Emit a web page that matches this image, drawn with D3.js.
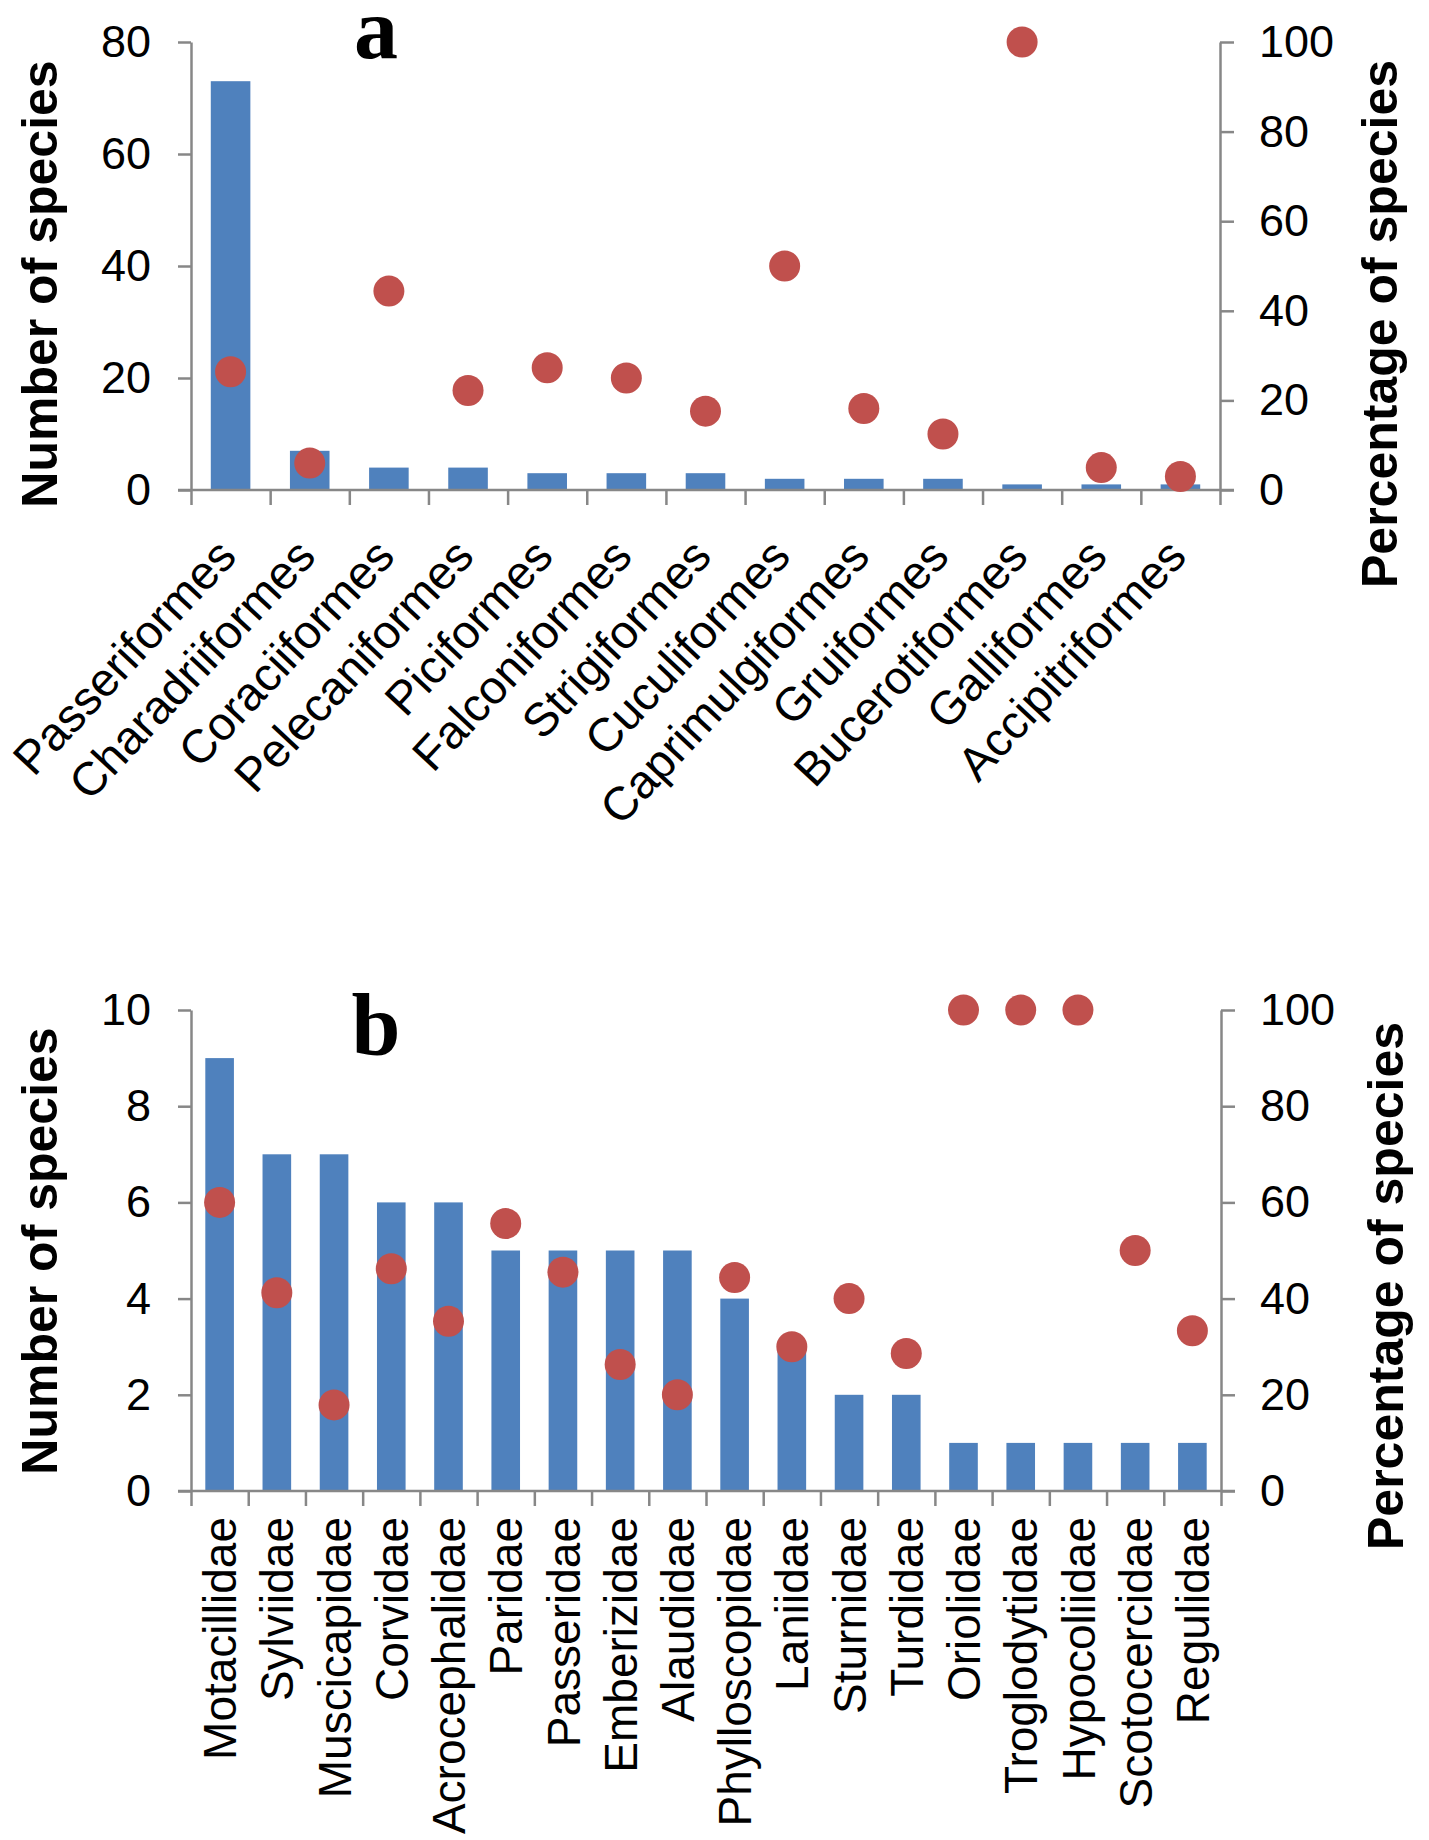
<!DOCTYPE html>
<html>
<head>
<meta charset="utf-8">
<script src="https://cdn.jsdelivr.net/npm/d3@7"></script>
<style>
  body { margin: 0; background: #fff; }
  text { font-family: "Liberation Sans", Arial, sans-serif; }
  .axis path, .axis line { stroke: #878787; stroke-width: 2.5; }
  .axis text { fill: #000; }
</style>
</head>
<body>
<svg id="chart" width="1429" height="1840"></svg>
<script>
// panel a: orders
var orders = ["Passeriformes", "Charadriiformes", "Coraciiformes", "Pelecaniformes", "Piciformes",
    "Falconiformes", "Strigiformes", "Cuculiformes", "Caprimulgiformes", "Gruiformes",
    "Bucerotiformes", "Galliformes", "Accipitriformes"];
var orderCounts = [73, 7, 4, 4, 3, 3, 3, 2, 2, 2, 1, 1, 1];
var orderPercents = [26.4, 6.0, 44.4, 22.2, 27.3, 25.0, 17.6, 50.0, 18.2, 12.5, 100, 5.0, 3.0];

// panel b: families
var families = ["Motacillidae", "Sylviidae", "Muscicapidae", "Corvidae", "Acrocephalidae", "Paridae",
    "Passeridae", "Emberizidae", "Alaudidae", "Phylloscopidae", "Laniidae", "Sturnidae", "Turdidae",
    "Oriolidae", "Troglodytidae", "Hypocoliidae", "Scotocercidae", "Regulidae"];
var familyCounts = [9, 7, 7, 6, 6, 5, 5, 5, 5, 4, 3, 2, 2, 1, 1, 1, 1, 1];
var familyPercents = [60.0, 41.2, 17.9, 46.2, 35.3, 55.6, 45.5, 26.3, 20.0, 44.4, 30.0, 40.0, 28.6,
    100, 100, 100, 50.0, 33.3];

var countTicksA = [0, 20, 40, 60, 80];
var countTicksB = [0, 2, 4, 6, 8, 10];
var percentTicks = [0, 20, 40, 60, 80, 100];

var svg = d3.select("#chart");
svg.append("rect").attr("width", 1429).attr("height", 1840).attr("fill", "#fff");

function drawPanel(p) {
    var n = p.cats.length,
        g = svg.append("g");

    var x = d3.scaleBand().domain(p.cats).range([p.left, p.right]).paddingInner(0.5).paddingOuter(0.25),
        edge = d3.scaleLinear().domain([0, n]).range([p.left, p.right]),
        yL = d3.scaleLinear().domain([0, d3.max(p.countTicks)]).range([p.bottom, p.top]),
        yR = d3.scaleLinear().domain([0, 100]).range([p.bottom, p.top]);

    g.selectAll(".bar")
        .data(p.cats)
        .enter().append("rect")
        .attr("class", "bar")
        .attr("x", function (d) { return x(d); })
        .attr("width", x.bandwidth())
        .attr("y", function (d, i) { return yL(p.counts[i]); })
        .attr("height", function (d, i) { return yL(0) - yL(p.counts[i]); })
        .attr("fill", "#4F81BD");

    // category axis, ticks on the band edges
    var xAxis = g.append("g")
        .attr("class", "axis")
        .attr("transform", "translate(0," + p.bottom + ")")
        .call(d3.axisBottom(edge).tickValues(d3.range(n + 1)).tickSize(15).tickFormat(""));
    xAxis.select(".domain").remove();
    xAxis.append("line")
        .attr("x1", p.left - 13).attr("x2", p.right + 14)
        .attr("y1", 0).attr("y2", 0);

    g.append("g")
        .attr("class", "axis")
        .attr("transform", "translate(" + p.left + ",0)")
        .call(d3.axisLeft(yL).tickValues(p.countTicks).tickSize(13).tickSizeOuter(0).tickPadding(27))
        .attr("font-size", 45)
        .attr("font-family", "Liberation Sans, Arial, sans-serif");

    g.append("g")
        .attr("class", "axis")
        .attr("transform", "translate(" + p.right + ",0)")
        .call(d3.axisRight(yR).tickValues(percentTicks).tickSize(14).tickSizeOuter(0).tickPadding(25))
        .attr("font-size", 45)
        .attr("font-family", "Liberation Sans, Arial, sans-serif");

    g.selectAll(".dot")
        .data(p.cats)
        .enter().append("circle")
        .attr("class", "dot")
        .attr("cx", function (d) { return x(d) + x.bandwidth() / 2; })
        .attr("cy", function (d, i) { return yR(p.pcts[i]); })
        .attr("r", 15.5)
        .attr("fill", "#C0504D");

    g.selectAll(".cat")
        .data(p.cats)
        .enter().append("text")
        .attr("class", "cat")
        .attr("transform", function (d) {
            return "translate(" + (x(d) + x.bandwidth() / 2 + p.labelDx) + "," + (p.bottom + p.labelDy) + ") rotate(" + p.angle + ")";
        })
        .attr("dy", p.angle === -90 ? "0.36em" : 0)
        .attr("text-anchor", "end")
        .attr("font-size", p.labelSize)
        .text(function (d) { return d; });

    g.append("text")
        .attr("transform", "translate(57," + p.leftTitleY + ") rotate(-90)")
        .attr("text-anchor", "middle")
        .attr("font-size", 50)
        .attr("font-weight", "bold")
        .text("Number of species");

    g.append("text")
        .attr("transform", "translate(" + p.rightTitleX + "," + p.rightTitleY + ") rotate(-90)")
        .attr("text-anchor", "middle")
        .attr("font-size", 50)
        .attr("font-weight", "bold")
        .text("Percentage of species");

    g.append("text")
        .attr("x", 376)
        .attr("y", p.letterY)
        .attr("text-anchor", "middle")
        .style("font-family", "Liberation Serif, Times New Roman, serif")
        .attr("font-size", 88)
        .attr("font-weight", "bold")
        .text(p.letter);
}

drawPanel({
    cats: orders, counts: orderCounts, pcts: orderPercents, countTicks: countTicksA,
    top: 42, bottom: 490, left: 191, right: 1220,
    angle: -47, labelDx: 8, labelDy: 68, labelSize: 47,
    leftTitleY: 284, rightTitleY: 324, rightTitleX: 1397,
    letter: "a", letterY: 58
});

drawPanel({
    cats: families, counts: familyCounts, pcts: familyPercents, countTicks: countTicksB,
    top: 1010, bottom: 1491, left: 191, right: 1221,
    angle: -90, labelDx: 0, labelDy: 26, labelSize: 46,
    leftTitleY: 1251, rightTitleY: 1286, rightTitleX: 1403,
    letter: "b", letterY: 1055
});
</script>
</body>
</html>
